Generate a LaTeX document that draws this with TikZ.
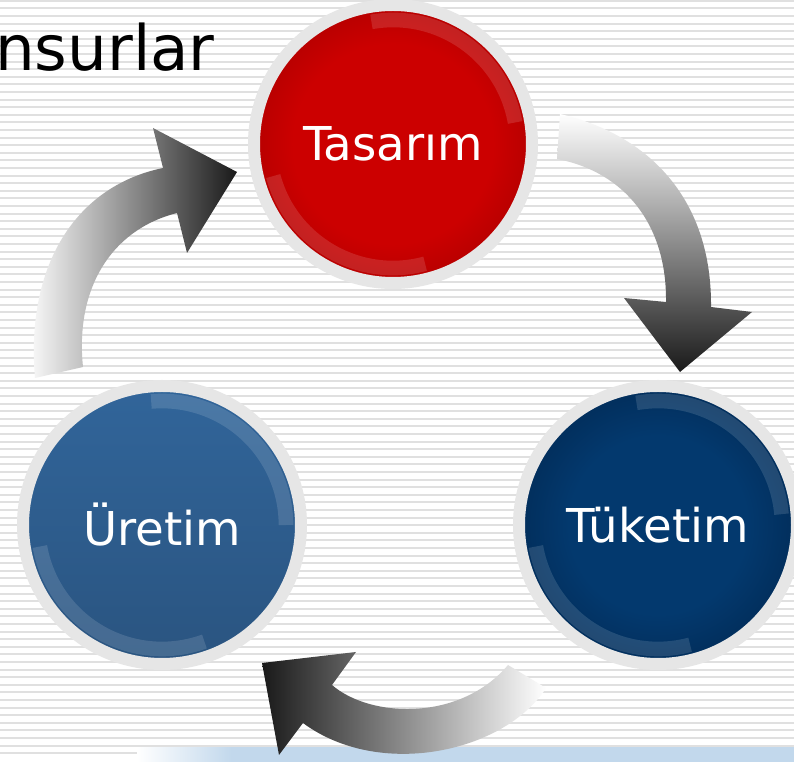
\documentclass[tikz,border=0pt]{standalone}
\usepackage{fontspec}
\setmainfont{DejaVu Sans}
\usetikzlibrary{calc}
\definecolor{ringgray}{HTML}{E6E6E6}
\definecolor{stripegray}{HTML}{E0E0E0}
\definecolor{stripblue}{HTML}{C2D8EC}
\definecolor{tasred}{HTML}{CC0000}
\definecolor{tasdark}{HTML}{990000}
\definecolor{uretop}{HTML}{31659A}
\definecolor{urebot}{HTML}{2A5480}
\definecolor{tuknavy}{HTML}{03396E}
\definecolor{tukdark}{HTML}{012247}
\pgfdeclareradialshading{tasglow}{\pgfpoint{0bp}{0bp}}{color(0bp)=(tasred); color(18bp)=(tasred); color(35bp)=(tasdark); color(50bp)=(tasdark)}
\pgfdeclareradialshading{tukglow}{\pgfpoint{0bp}{0bp}}{color(0bp)=(tuknavy); color(16bp)=(tuknavy); color(35bp)=(tukdark); color(50bp)=(tukdark)}

\begin{document}
\begin{tikzpicture}[x=0.75pt,y=-0.75pt,
  ball/.style={circle,draw=ringgray,line width=9pt,minimum size=208.5pt,inner sep=0pt,text=white,font=\fontsize{35}{40}\selectfont},
  gloss/.style={white,opacity=0.13,line width=11pt},
  stripe/.style={stripegray,line width=1.6pt},
  title/.style={anchor=base west,inner sep=0pt,font=\fontsize{47}{52}\selectfont}
]
\clip (0,0) rectangle (794,762);
\fill[white] (0,0) rectangle (794,762);
% striped background
\foreach \i in {0,...,99}
  \draw[stripe] (0,\i*7.6+0.8) -- (794,\i*7.6+0.8);
% blue strip at the bottom
\shade[left color=white,right color=stripblue] (137,747.5) rectangle (232,762);
\fill[stripblue] (231,747.5) rectangle (794,762);

\node[title] (title) at (-5,70.7) {nsurlar};

% curved arrows
\shade[top color=white,middle color=gray!35,bottom color=black!90]
  (560,114) .. controls (650,135) and (712,200) .. (711,307) -- (752,312) -- (680,372)
  -- (624,298) -- (666,302) .. controls (667,225) and (625,172) .. (557,159) -- cycle;
\shade[left color=black!90,middle color=gray!50,right color=white]
  (508,665) -- (546,688) .. controls (505,752) and (380,780) .. (303,723) -- (279,755)
  -- (262,663) -- (356,652) -- (332,685) .. controls (370,718) and (460,722) .. (508,665) -- cycle;
\shade[left color=white,middle color=gray!45,right color=black!90]
  (35,378) .. controls (25,260) and (80,185) .. (163,168) -- (153,128) -- (237,172)
  -- (187,253) -- (177,213) .. controls (110,230) and (75,290) .. (83,367) -- cycle;

% the three stages
\node[ball,shade,shading=tasglow] (tas) at (393,144) {Tasarım};
\node[ball,top color=uretop,bottom color=urebot] (ure) at (162,525) {Üretim};
\node[ball,shade,shading=tukglow] (tuk) at (658,525) {Tüketim};

\foreach \b/\s/\e in {tas/10/100, tas/195/285, ure/0/95, ure/190/290, tuk/5/100, tuk/190/285}
  \draw[gloss] (\b.center) ++(\s:93pt) arc[start angle=\s,end angle=\e,radius=93pt];
\end{tikzpicture}
\end{document}
